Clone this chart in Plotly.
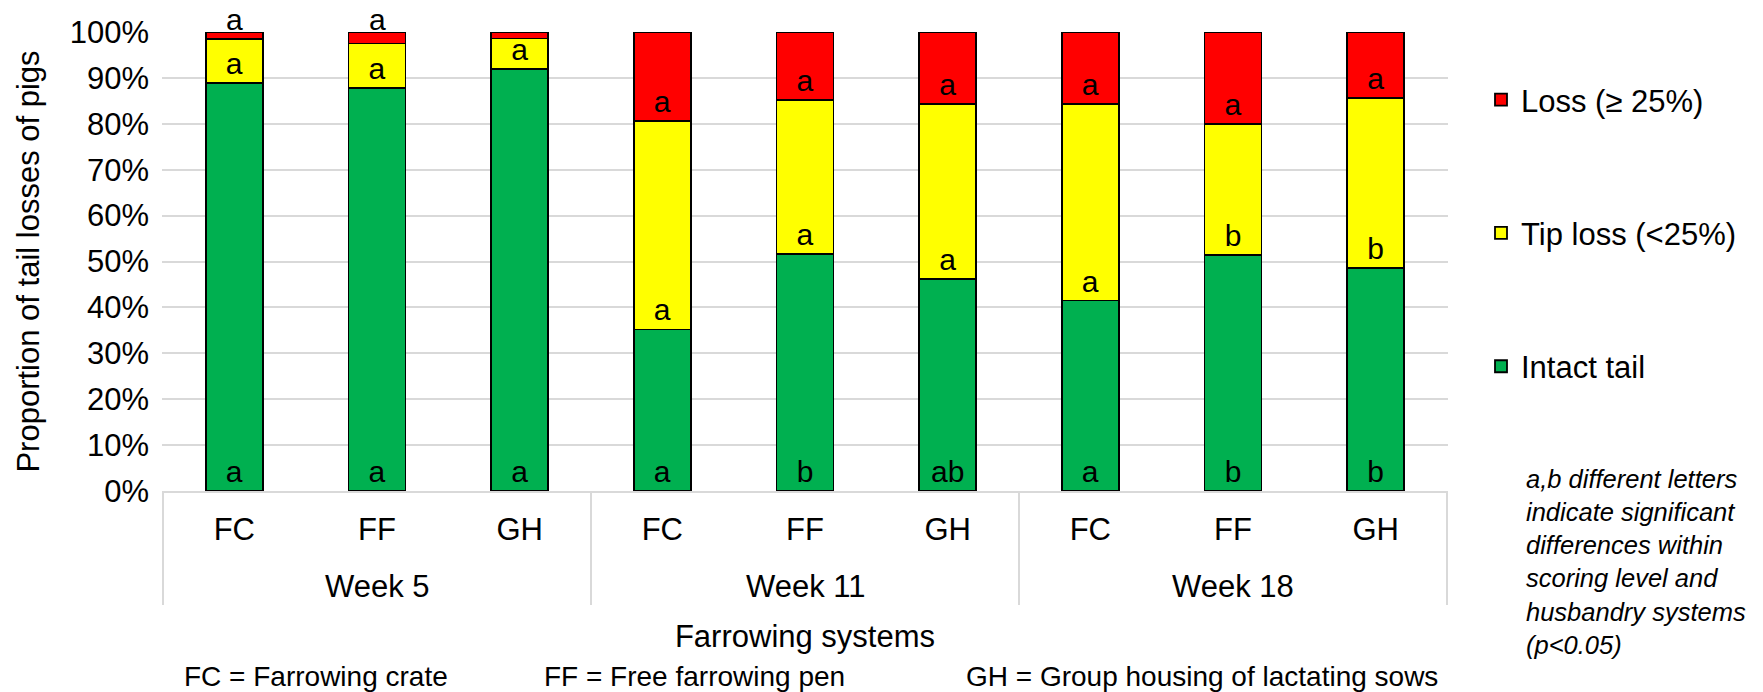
import plotly.graph_objects as go

# Categories: sampling week (outer level) and farrowing system (inner level)
weeks = ["Week 5"] * 3 + ["Week 11"] * 3 + ["Week 18"] * 3
systems = ["FC", "FF", "GH"] * 3

# Share of pigs (%) per tail score
intact = [88.9, 87.8, 91.9, 35.2, 51.7, 46.2, 41.5, 51.4, 48.6]
tip_loss = [9.5, 9.7, 6.7, 45.4, 33.4, 38.2, 42.9, 28.5, 37.0]
loss = [1.6, 2.5, 1.4, 19.4, 14.9, 15.6, 15.6, 20.1, 14.4]

# Significance letters per segment
intact_letters = ["a", "a", "a", "a", "b", "ab", "a", "b", "b"]
tip_letters = ["a", "a", "a", "a", "a", "a", "a", "b", "b"]
loss_letters = ["a"] * 9

FONT = "Liberation Sans, Arial, sans-serif"
GRID = "#d9d9d9"

# One category per week/system pair; only the system is printed as tick text
cats = [f"{w} {s}" for w, s in zip(weeks, systems)]
# Loss segments too thin to hold a letter get it above the bar instead
thin = [v < 5 for v in loss]

series = [
    ("Intact tail", intact, intact_letters, "#00B050", 3),
    ("Tip loss (<25%)", tip_loss, tip_letters, "#FFFF00", 2),
    ("Loss (\u2265 25%)", loss, loss_letters, "#FF0000", 1),
]

fig = go.Figure()
for name, vals, letters, color, rank in series:
    is_loss = vals is loss
    shown = [("" if (is_loss and t) else s) for s, t in zip(letters, thin)]
    fig.add_trace(go.Bar(
        x=cats, y=vals, name=name, legendgroup=name, legendrank=rank,
        marker=dict(color=color, line=dict(color="black", width=1.8)),
        text=shown, textposition="inside", insidetextanchor="start",
        textangle=0, constraintext="none", cliponaxis=False,
        textfont=dict(family=FONT, size=30, color="black"),
        hoverinfo="skip",
    ))

# Letters placed just above the thin loss segments (bar top = 100 %)
for i, (letter, t) in enumerate(zip(loss_letters, thin)):
    if t:
        fig.add_annotation(
            x=cats[i], y=intact[i] + tip_loss[i] + loss[i], xref="x", yref="y",
            text=letter, showarrow=False, yanchor="bottom", yshift=-6,
            font=dict(family=FONT, size=30, color="black"),
        )

# Outer level of the category axis: week names centred under their group,
# with light separators between the groups
groups = []
for i, w in enumerate(weeks):
    if not groups or groups[-1][0] != w:
        groups.append([w, i, i])
    else:
        groups[-1][2] = i

LEVEL2_Y = (491 - 587) / 459.3
DIVIDER_Y = (491 - 605) / 459.3
for w, first, last in groups:
    fig.add_annotation(
        x=(first + last) / 2, y=LEVEL2_Y, xref="x", yref="paper",
        text=w, showarrow=False, yanchor="middle",
        font=dict(family=FONT, size=31, color="black"),
    )
edges = [g[1] - 0.5 for g in groups] + [groups[-1][2] + 0.5]
for e in edges:
    fig.add_shape(
        type="line", xref="x", yref="paper", x0=e, x1=e, y0=0, y1=DIVIDER_Y,
        line=dict(color=GRID, width=2), layer="below",
    )

fig.update_layout(
    width=1763, height=692,
    margin=dict(l=162, r=314.5, t=32, b=201),
    barmode="stack", bargap=0.6,
    plot_bgcolor="white", paper_bgcolor="white",
    font=dict(family=FONT, size=31, color="black"),
    showlegend=True,
    legend=dict(
        traceorder="grouped", tracegroupgap=90,
        xref="container", yref="container",
        x=1481 / 1763, xanchor="left",
        y=1 - 73 / 692, yanchor="top",
        font=dict(size=31), bgcolor="rgba(0,0,0,0)",
    ),
    xaxis=dict(
        type="category",
        tickvals=cats, ticktext=systems,
        showgrid=False,
        showline=True, linecolor=GRID, linewidth=2,
        ticks="outside", ticklen=10, tickcolor="rgba(0,0,0,0)",
        tickfont=dict(size=31),
        title=dict(text="Farrowing systems", standoff=79, font=dict(size=31)),
    ),
    yaxis=dict(
        range=[0, 100], dtick=10, ticksuffix="%",
        showgrid=True, gridcolor=GRID, gridwidth=2,
        zeroline=False, showline=False, ticks="",
        ticklabelstandoff=12,
        tickfont=dict(size=31),
        title=dict(text="Proportion of tail losses of pigs", standoff=20,
                   font=dict(size=31)),
    ),
)

# Abbreviation key beneath the axis title
key = [
    ("FC = Farrowing crate", 182.5),
    ("FF = Free farrowing pen", 542.5),
    ("GH = Group housing of lactating sows", 964.5),
]
for txt, left in key:
    fig.add_annotation(
        text=txt, xref="paper", yref="paper",
        x=(left - 162) / 1286.5, y=(491 - 676.7) / 459.3,
        xanchor="left", yanchor="middle", showarrow=False,
        font=dict(family=FONT, size=28, color="black"),
    )

# Note on the significance letters
fig.add_annotation(
    text="<i>a,b different letters<br>indicate significant<br>differences within"
         "<br>scoring level and<br>husbandry systems<br>(p<0.05)</i>",
    xref="paper", yref="paper",
    x=(1524.7 - 162) / 1286.5, y=(491 - 561.7) / 459.3,
    xanchor="left", yanchor="middle", align="left", showarrow=False,
    font=dict(family=FONT, size=25.5, color="black"),
)

fig.write_html("out.html")
